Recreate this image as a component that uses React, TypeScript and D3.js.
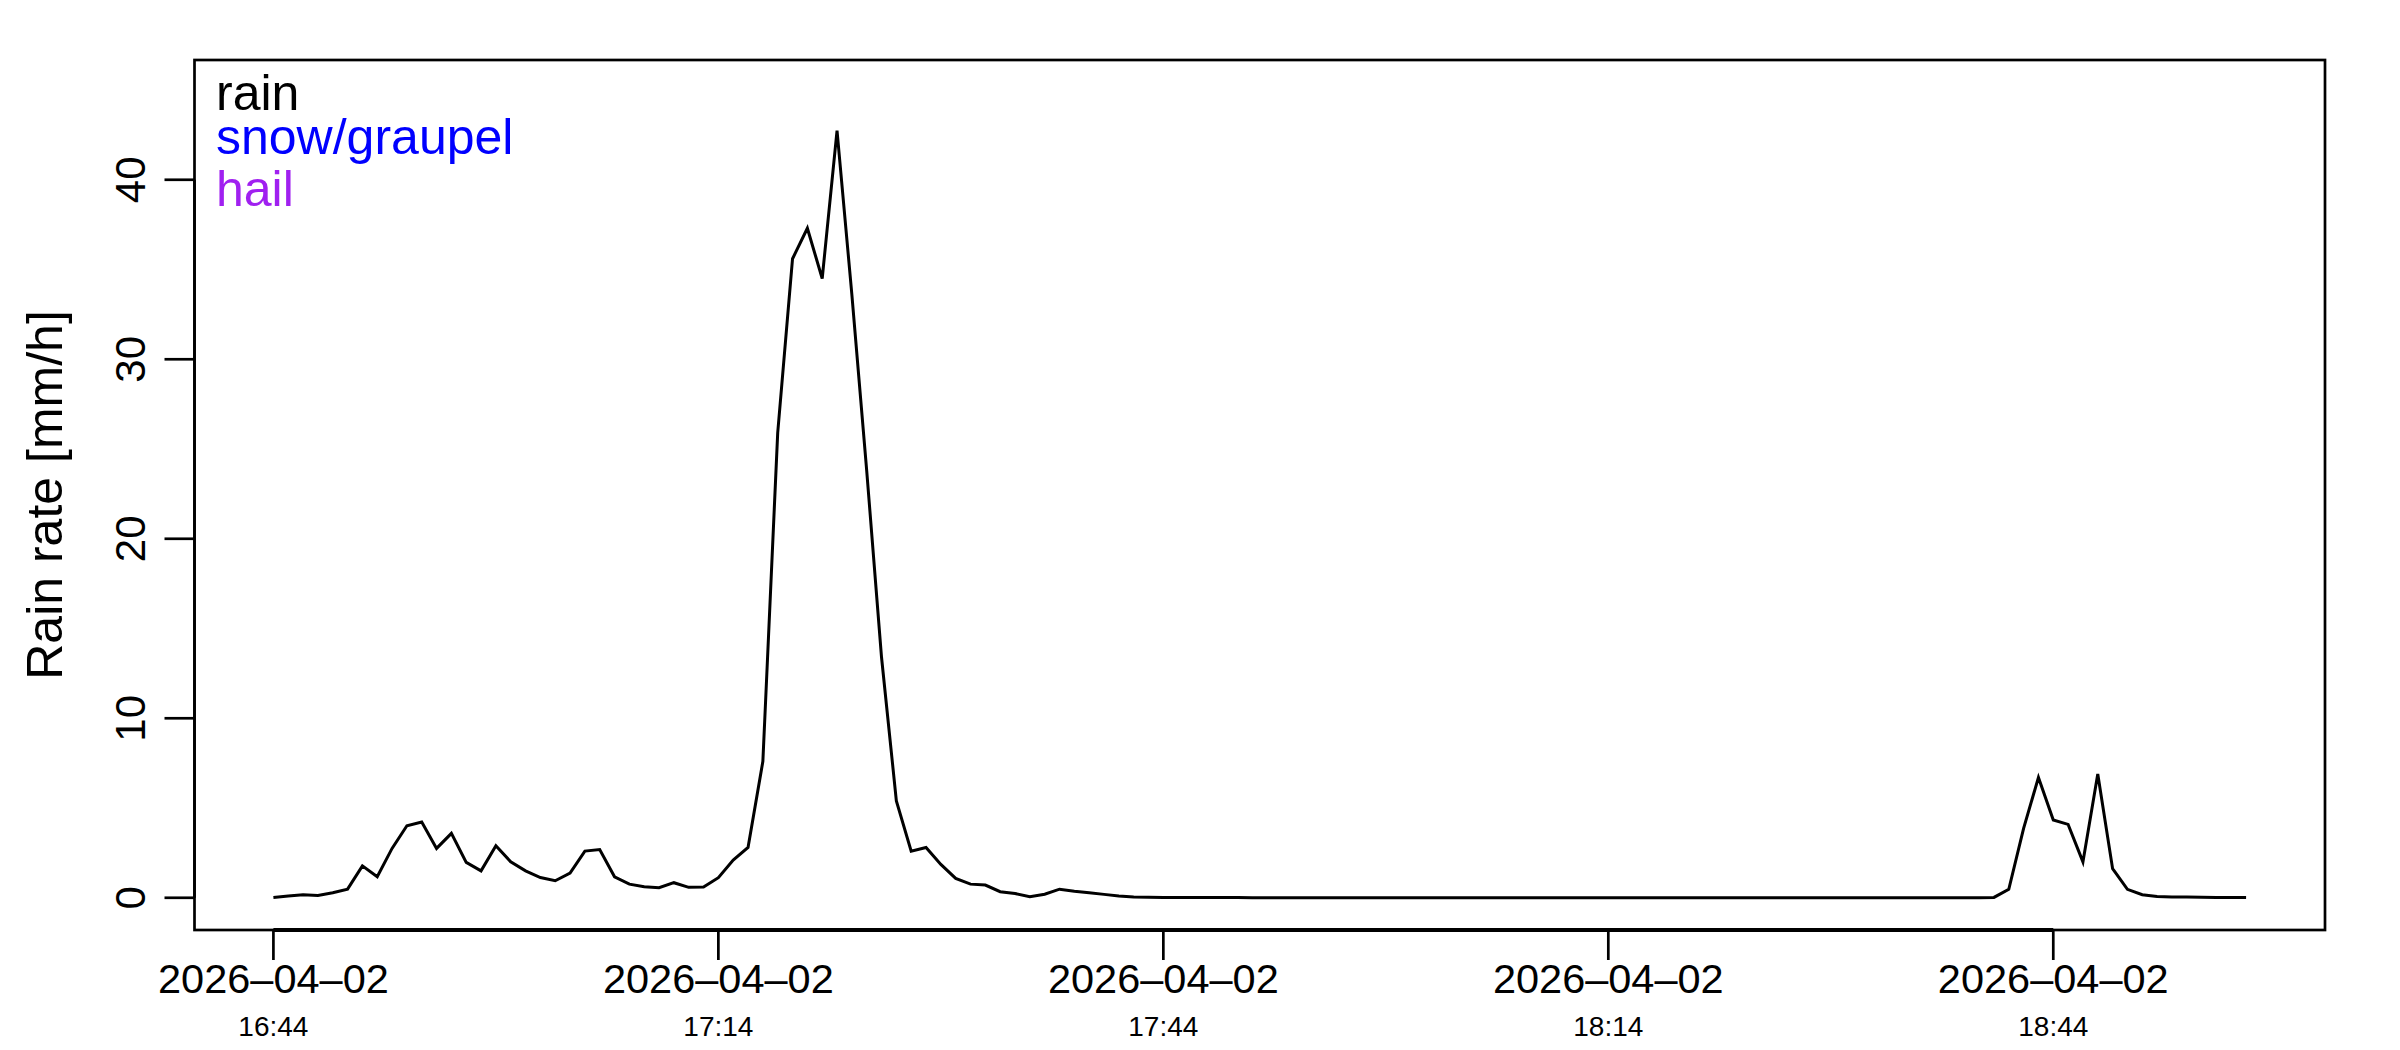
import * as d3 from "d3";

// one reading per minute, starting 2026-04-02 16:44
const startTime = new Date(2026, 3, 2, 16, 44);

const rainRate: number[] = [
  0.02, 0.1, 0.17, 0.13, 0.28, 0.48, 1.78, 1.17, 2.75, 4.01,
  4.22, 2.75, 3.59, 1.97, 1.5, 2.9, 2.0, 1.5, 1.13, 0.95,
  1.38, 2.6, 2.69, 1.17, 0.76, 0.61, 0.56, 0.84, 0.58, 0.6,
  1.12, 2.1, 2.8, 7.6, 25.9, 35.6, 37.3, 34.5, 42.74, 33.6,
  23.8, 13.4, 5.4, 2.6, 2.8, 1.86, 1.08, 0.76, 0.71, 0.34,
  0.24, 0.06, 0.2, 0.48, 0.37, 0.28, 0.19, 0.1, 0.04, 0.03,
  0.02, 0.02, 0.01, 0.01, 0.01, 0.01, 0, 0, 0, 0,
  0, 0, 0, 0, 0, 0, 0, 0, 0, 0,
  0, 0, 0, 0, 0, 0, 0, 0, 0, 0,
  0, 0, 0, 0, 0, 0, 0, 0, 0, 0,
  0, 0, 0, 0, 0, 0, 0, 0, 0, 0,
  0, 0, 0, 0, 0, 0, 0.02, 0.47, 3.87, 6.7,
  4.33, 4.09, 2.0, 6.89, 1.62, 0.47, 0.17, 0.07, 0.05, 0.04,
  0.03, 0.02, 0.02, 0.01,
];

const yTicks = [0, 10, 20, 30, 40];
const xTickTimes = ["16:44", "17:14", "17:44", "18:14", "18:44"];
const xTickDate = "2026–04–02";

const legendLabels = ["rain", "snow/graupel", "hail"];
const legendColors = ["black", "blue", "#a020f0"];

const width = 2400;
const height = 1050;
const plotLeft = 194.5;
const plotRight = 2325;
const plotTop = 60;
const plotBottom = 930;
const font = "'Liberation Sans', Arial, Helvetica, sans-serif";
const lw = 2.7;

const minute = 60 * 1000;

export default function App() {
  const times = rainRate.map((_, i) => new Date(startTime.getTime() + i * minute));
  const t0 = times[0].getTime();
  const t1 = times[times.length - 1].getTime();
  const pad = (t1 - t0) * 0.04;

  const x = d3
    .scaleTime()
    .domain([new Date(t0 - pad), new Date(t1 + pad)])
    .range([plotLeft, plotRight]);

  // ylim = c(0, 1.05 * max), plus R's usual 4% extension
  const yMax = d3.max(rainRate)! * 1.05;
  const y = d3
    .scaleLinear()
    .domain([-0.04 * yMax, yMax * 1.04])
    .range([plotBottom, plotTop]);

  const line = d3
    .line<number>()
    .x((_, i) => x(times[i]))
    .y((d) => y(d));

  const tickDates = xTickTimes.map((s) => {
    const [h, m] = s.split(":").map(Number);
    return new Date(2026, 3, 2, h, m);
  });

  const legendBaselines = [110, 154, 206];

  return (
    <svg
      width={width}
      height={height}
      style={{ position: "absolute", left: 0, top: 0, background: "white" }}
      fontFamily={font}
    >
      <rect x={0} y={0} width={width} height={height} fill="white" />

      {/* data */}
      <path d={line(rainRate) ?? ""} fill="none" stroke="black" strokeWidth={3} strokeLinejoin="miter" />

      {/* box */}
      <rect
        x={plotLeft}
        y={plotTop}
        width={plotRight - plotLeft}
        height={plotBottom - plotTop}
        fill="none"
        stroke="black"
        strokeWidth={lw}
      />

      {/* y axis */}
      <line x1={plotLeft} x2={plotLeft} y1={y(0)} y2={y(40)} stroke="black" strokeWidth={lw} />
      {yTicks.map((v) => (
        <g key={v}>
          <line x1={plotLeft - 30} x2={plotLeft} y1={y(v)} y2={y(v)} stroke="black" strokeWidth={lw} />
          <text
            transform={`translate(145,${y(v)}) rotate(-90)`}
            textAnchor="middle"
            fontSize={42}
          >
            {v}
          </text>
        </g>
      ))}
      <text transform={`translate(62,${(plotTop + plotBottom) / 2}) rotate(-90)`} textAnchor="middle" fontSize={50}>
        Rain rate [mm/h]
      </text>

      {/* x axis */}
      <line
        x1={x(tickDates[0])}
        x2={x(tickDates[tickDates.length - 1])}
        y1={plotBottom}
        y2={plotBottom}
        stroke="black"
        strokeWidth={4}
      />
      {tickDates.map((d, i) => (
        <g key={i}>
          <line x1={x(d)} x2={x(d)} y1={plotBottom} y2={plotBottom + 30} stroke="black" strokeWidth={lw} />
          <text x={x(d)} y={993} textAnchor="middle" fontSize={41.5}>
            {xTickDate}
          </text>
          <text x={x(d)} y={1036} textAnchor="middle" fontSize={28}>
            {xTickTimes[i]}
          </text>
        </g>
      ))}

      {/* legend */}
      {legendLabels.map((s, i) => (
        <text key={s} x={216} y={legendBaselines[i]} fill={legendColors[i]} fontSize={50}>
          {s}
        </text>
      ))}
    </svg>
  );
}
